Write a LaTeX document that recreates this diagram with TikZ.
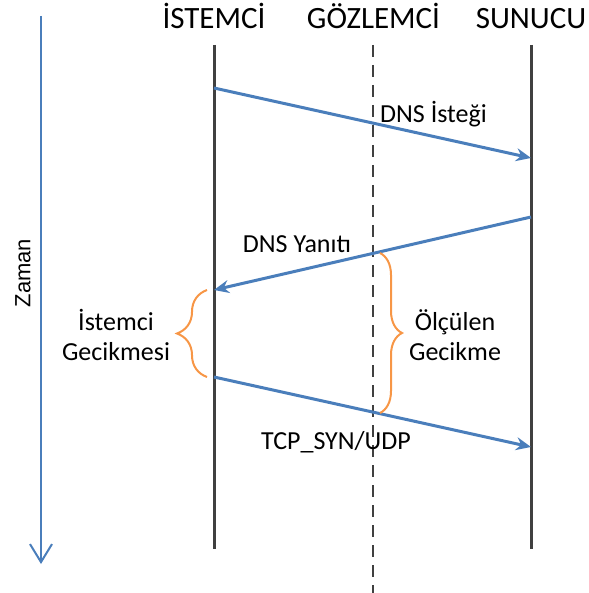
\documentclass[tikz,border=0pt]{standalone}
\usepackage{fontspec}
\setmainfont{Carlito}
\newfontfamily\axisfont{Liberation Sans}
\usetikzlibrary{arrows.meta,decorations.pathreplacing}

\definecolor{msgblue}{HTML}{4A7EBB}
\definecolor{lifegray}{HTML}{404040}
\definecolor{braceorange}{HTML}{F79646}

\tikzset{
  header/.style={anchor=base, inner sep=0pt, font=\fontsize{31}{37}\selectfont},
  msglabel/.style={anchor=base, inner sep=0pt, font=\fontsize{26}{30}\selectfont},
  notelabel/.style={inner sep=0pt, align=center, font=\fontsize{26}{30}\selectfont},
  lifeline/.style={draw=lifegray, line width=3pt},
  observer/.style={draw=lifegray, line width=2.8pt, dash pattern=on 12pt off 8pt},
  message/.style={draw=msgblue, line width=3pt, -{Stealth[length=15pt,width=13pt,inset=5pt]}},
  timeaxis/.style={draw=msgblue, line width=2pt, -{Straight Barb[length=18pt,width=22pt]}},
  delaybrace/.style={draw=braceorange, line width=2pt, decorate}
}

\begin{document}
\begin{tikzpicture}[x=1pt, y=-1pt]
  \useasboundingbox (0,0) rectangle (588,593);

  % time axis
  \coordinate (tTop) at (41,16);
  \coordinate (tBot) at (41,564);
  \draw[timeaxis] (tTop) -- (tBot);
  \node[rotate=90, inner sep=0pt, font=\axisfont\fontsize{22}{26}\selectfont] (zaman) at (23,273) {Zaman};

  % column headers
  \node[header] (hClient) at (214,29) {İSTEMCİ};
  \node[header] (hObs) at (373.5,29) {GÖZLEMCİ};
  \node[header] (hServer) at (531,29) {SUNUCU};

  % lifelines
  \coordinate (cTop) at (214,45);  \coordinate (cBot) at (214,549);
  \coordinate (oTop) at (373,45);  \coordinate (oBot) at (373,593);
  \coordinate (sTop) at (531,45);  \coordinate (sBot) at (531,549);
  \draw[lifeline] (cTop) -- (cBot);
  \draw[lifeline] (sTop) -- (sBot);
  \draw[observer] (oTop) -- (oBot);

  % message end points
  \coordinate (q1s) at (214,88);   \coordinate (q1e) at (531,158);
  \coordinate (r1s) at (531,217);  \coordinate (r1e) at (214,290);
  \coordinate (q2s) at (214,377);  \coordinate (q2e) at (531,447);

  \draw[message] (q1s) -- (q1e);
  \draw[message] (r1s) -- (r1e);
  \draw[message] (q2s) -- (q2e);

  % message labels
  \node[msglabel, anchor=base west] (lq1) at (380,123) {DNS İsteği};
  \node[msglabel] (lr1) at (297,252) {DNS Yanıtı};
  \node[msglabel] (lq2) at (336,449) {TCP\_SYN/UDP};

  % delay braces
  \coordinate (bcLow) at (207,377);  \coordinate (bcHigh) at (207,290);
  \coordinate (boHigh) at (380,253); \coordinate (boLow) at (380,413);
  \draw[delaybrace, decoration={brace, amplitude=30pt, aspect=0.5}] (bcLow) -- (bcHigh);
  \draw[delaybrace, decoration={brace, amplitude=22pt, aspect=0.5}] (boHigh) -- (boLow);

  \node[notelabel] (nClient) at (116,335) {İstemci\\Gecikmesi};
  \node[notelabel] (nObs) at (455,335) {Ölçülen\\Gecikme};
\end{tikzpicture}
\end{document}
